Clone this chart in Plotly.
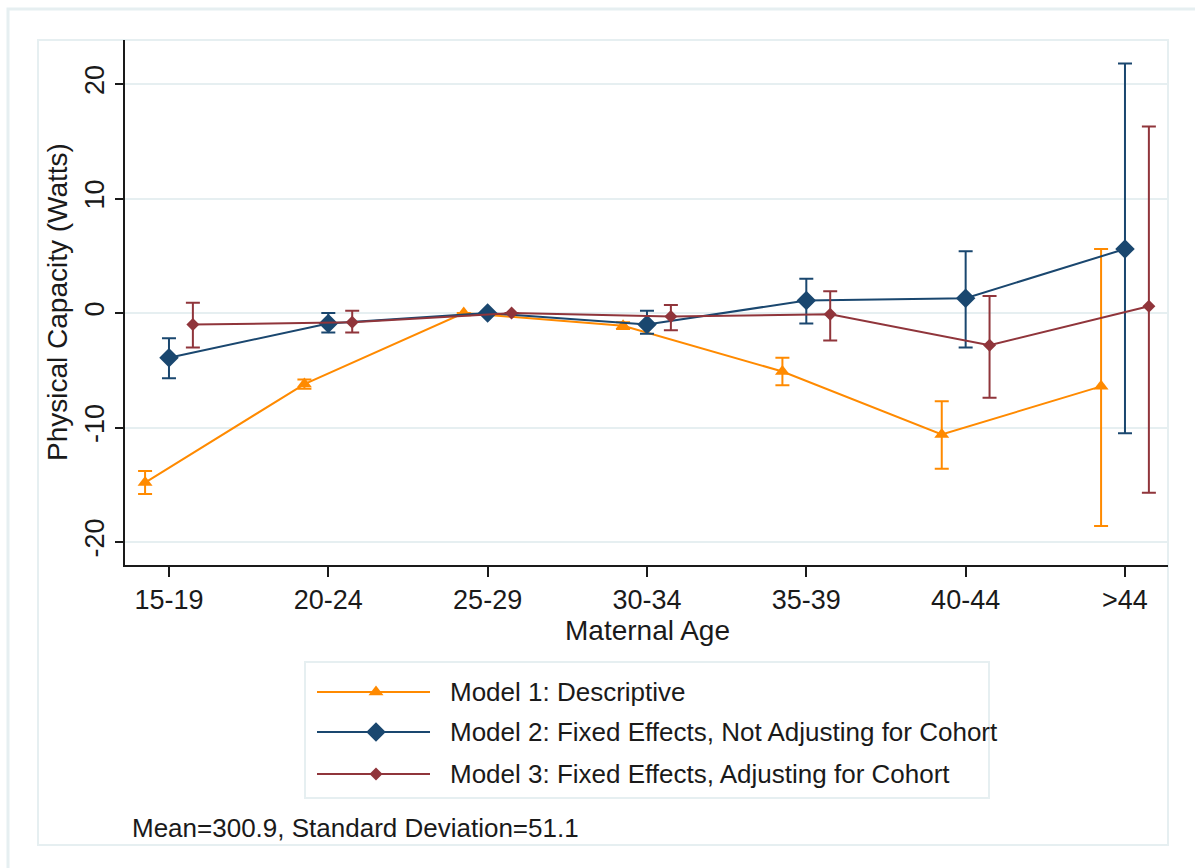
import plotly.graph_objects as go

# ---- data -------------------------------------------------------------
age_groups = ["15-19", "20-24", "25-29", "30-34", "35-39", "40-44", ">44"]

m1_est = [-14.8, -6.2, 0.0, -1.1, -5.1, -10.6, -6.4]
m1_hi = [-13.8, -5.8, 0.0, -0.8, -3.9, -7.7, 5.6]
m1_lo = [-15.8, -6.6, 0.0, -1.4, -6.3, -13.6, -18.6]

m2_est = [-3.9, -0.9, 0.0, -1.0, 1.1, 1.3, 5.6]
m2_hi = [-2.2, 0.0, 0.0, 0.2, 3.0, 5.4, 21.8]
m2_lo = [-5.7, -1.7, 0.0, -1.8, -0.9, -3.0, -10.5]

m3_est = [-1.0, -0.8, 0.0, -0.3, -0.1, -2.8, 0.6]
m3_hi = [0.9, 0.2, 0.0, 0.7, 1.9, 1.5, 16.3]
m3_lo = [-3.0, -1.7, 0.0, -1.5, -2.4, -7.4, -15.7]

y_ticks = [-20, -10, 0, 10, 20]
series_names = [
    "Model 1: Descriptive",
    "Model 2: Fixed Effects, Not Adjusting for Cohort",
    "Model 3: Fixed Effects, Adjusting for Cohort",
]
note_text = "Mean=300.9, Standard Deviation=51.1"

# ---- styling ----------------------------------------------------------
W, H = 1195, 868
ORANGE, NAVY, MAROON = "#ff8a00", "#1a476f", "#90353b"
GRID = "#e6eff1"
FONT = "Liberation Sans, Arial, sans-serif"
TXT = "#1a1a1a"

# plot-area pixel box
PX0, PX1, PY0, PY1 = 125, 1168, 40, 565

def px(x):
    return x / W

def py(y):
    return 1 - y / H

styles = [
    dict(color=ORANGE, symbol="triangle-up", size=13, shift=-0.15),
    dict(color=NAVY, symbol="diamond", size=15, shift=0.0),
    dict(color=MAROON, symbol="diamond", size=10, shift=0.15),
]
series = [
    (m1_est, m1_hi, m1_lo),
    (m2_est, m2_hi, m2_lo),
    (m3_est, m3_hi, m3_lo),
]

fig = go.Figure()

for name, (est, hi, lo), st in zip(series_names, series, styles):
    xs = [i + st["shift"] for i in range(len(age_groups))]
    fig.add_trace(go.Scatter(
        x=xs, y=est, name=name, mode="lines+markers",
        line=dict(color=st["color"], width=2),
        marker=dict(color=st["color"], symbol=st["symbol"], size=st["size"],
                    opacity=1, line=dict(width=0)),
        error_y=dict(type="data", symmetric=False,
                     array=[h - e for h, e in zip(hi, est)],
                     arrayminus=[e - l for e, l in zip(est, lo)],
                     color=st["color"], thickness=2, width=7),
        showlegend=False, cliponaxis=False,
    ))

# ---- legend keys drawn on an overlay axis in pixel units --------------
LEG_X0, LEG_X1, LEG_MID = 317, 430, 376
LEG_ROWS = [692, 732, 774]
for name, st, yrow in zip(series_names, styles, LEG_ROWS):
    fig.add_trace(go.Scatter(
        x=[LEG_X0, LEG_MID, LEG_X1], y=[yrow] * 3, mode="lines+markers",
        line=dict(color=st["color"], width=2),
        marker=dict(color=st["color"], symbol=st["symbol"],
                    size=[0, st["size"], 0], opacity=1, line=dict(width=0)),
        xaxis="x2", yaxis="y2", showlegend=False, hoverinfo="skip",
    ))

annotations = []
for name, yrow in zip(series_names, LEG_ROWS):
    annotations.append(dict(
        x=px(448), y=py(yrow), xref="paper", yref="paper", text=name,
        showarrow=False, xanchor="left", yanchor="middle",
        font=dict(family=FONT, size=26, color=TXT),
    ))
annotations.append(dict(
    x=px(130), y=py(828), xref="paper", yref="paper", text=note_text,
    showarrow=False, xanchor="left", yanchor="middle",
    font=dict(family=FONT, size=26, color=TXT),
))
annotations.append(dict(
    x=px(648), y=py(630), xref="paper", yref="paper", text="Maternal Age",
    showarrow=False, xanchor="center", yanchor="middle",
    font=dict(family=FONT, size=28, color=TXT),
))
annotations.append(dict(
    x=px(57), y=py(302), xref="paper", yref="paper",
    text="Physical Capacity (Watts)", textangle=-90,
    showarrow=False, xanchor="center", yanchor="middle",
    font=dict(family=FONT, size=28, color=TXT),
))

shapes = [
    # outer graph frame
    dict(type="rect", xref="paper", yref="paper",
         x0=px(8), x1=px(1210), y0=py(885), y1=py(9),
         line=dict(color=GRID, width=3), layer="below"),
    # inner graph region frame
    dict(type="rect", xref="paper", yref="paper",
         x0=px(38), x1=px(1168), y0=py(845), y1=py(40),
         line=dict(color=GRID, width=2), layer="below"),
    # legend box
    dict(type="rect", xref="paper", yref="paper",
         x0=px(305), x1=px(989), y0=py(798), y1=py(662),
         line=dict(color=GRID, width=2), layer="below"),
]

fig.update_layout(
    width=W, height=H,
    margin=dict(l=0, r=0, t=0, b=0),
    paper_bgcolor="white", plot_bgcolor="rgba(0,0,0,0)",
    font=dict(family=FONT, color=TXT),
    showlegend=False,
    annotations=annotations,
    shapes=shapes,
    xaxis=dict(
        domain=[px(PX0), px(PX1)],
        range=[-0.276, 6.27],
        tickmode="array", tickvals=list(range(len(age_groups))),
        ticktext=age_groups,
        ticks="outside", ticklen=10, tickwidth=2, tickcolor=TXT,
        showline=True, linecolor=TXT, linewidth=2,
        showgrid=False, zeroline=False,
        tickfont=dict(family=FONT, size=27, color=TXT),
        automargin=False,
    ),
    yaxis=dict(
        domain=[py(PY1), py(PY0)],
        range=[-22.0, 23.85],
        tickmode="array", tickvals=y_ticks,
        ticktext=[str(v) for v in y_ticks],
        tickangle=-90,
        ticks="outside", ticklen=8, tickwidth=2, tickcolor=TXT,
        showline=True, linecolor=TXT, linewidth=2,
        showgrid=True, gridcolor=GRID, gridwidth=2, zeroline=False,
        tickfont=dict(family=FONT, size=27, color=TXT),
        automargin=False,
    ),
    xaxis2=dict(domain=[0, 1], range=[0, W], visible=False,
                anchor="y2", fixedrange=True),
    yaxis2=dict(domain=[0, 1], range=[H, 0], visible=False,
                anchor="x2", fixedrange=True),
)

fig.write_html("out.html")
